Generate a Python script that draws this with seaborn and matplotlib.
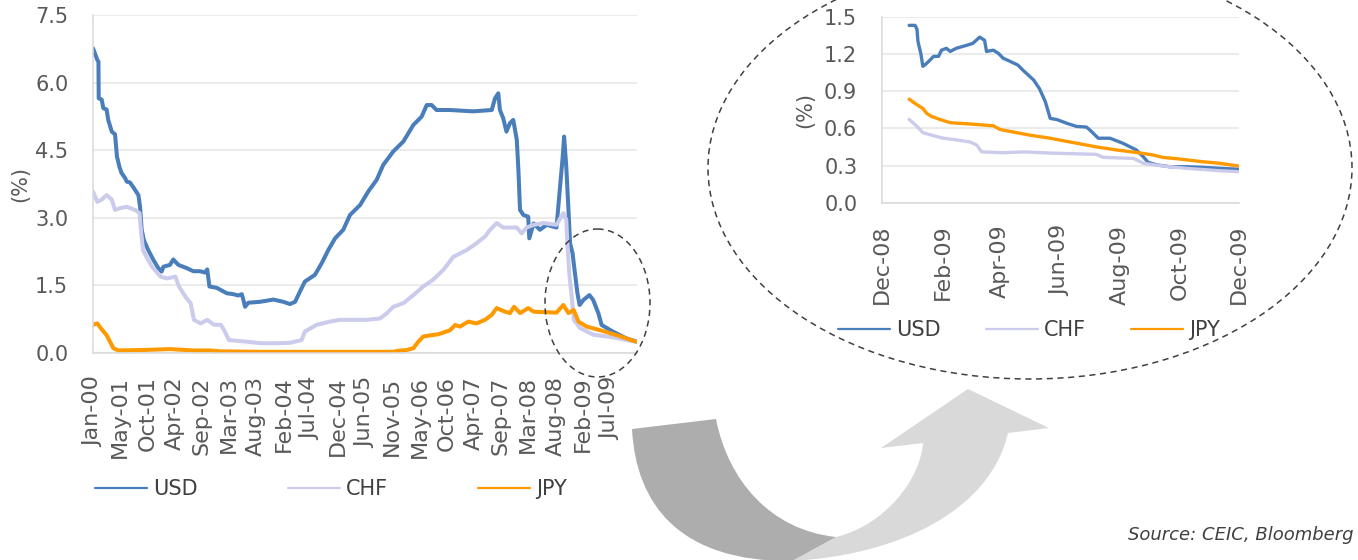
import numpy as np
import pandas as pd
import matplotlib
matplotlib.use("Agg")
import matplotlib.pyplot as plt
import matplotlib.dates as mdates
from matplotlib.ticker import FormatStrFormatter, FixedLocator
from matplotlib.patches import Ellipse, PathPatch
from matplotlib.path import Path
from matplotlib.lines import Line2D
from matplotlib.transforms import Affine2D
import seaborn as sns

# ---------------------------------------------------------------- data
CURRENCIES = ["USD", "CHF", "JPY"]
COLORS = {"USD": "#4A7EBB", "CHF": "#CBCBEC", "JPY": "#FF9900"}

# Long history: position along the observation axis (one unit = one label period)
PERIOD_LABELS = ["Jan-00", "May-01", "Oct-01", "Apr-02", "Sep-02", "Mar-03",
                 "Aug-03", "Feb-04", "Jul-04", "Dec-04", "Jun-05", "Nov-05",
                 "May-06", "Oct-06", "Apr-07", "Sep-07", "Mar-08", "Aug-08",
                 "Feb-09", "Jul-09"]

usd_t = [0, 0.07, 0.16, 0.2, 0.21, 0.32, 0.38, 0.5, 0.56, 0.69, 0.81, 0.88,
         0.97, 1.05, 1.18, 1.24, 1.36, 1.51, 1.67, 1.73, 1.79, 1.87, 2.03,
         2.22, 2.4, 2.52, 2.59, 2.83, 2.95, 3.14, 3.44, 3.69, 3.93, 4.12, 4.2,
         4.28, 4.55, 4.92, 5.16, 5.34, 5.47, 5.53, 5.59, 5.71, 6.14, 6.63, 7.0,
         7.24, 7.43, 7.61, 7.79, 8.16, 8.41, 8.65, 8.9, 9.2, 9.45, 9.82, 10.12,
         10.43, 10.67, 11.04, 11.41, 11.78, 12.08, 12.27, 12.45, 12.63, 13.12,
         13.98, 14.66, 14.78, 14.9, 14.96, 15.08, 15.2, 15.33, 15.45, 15.58,
         15.64, 15.7, 15.82, 16.0, 16.04, 16.2, 16.43, 16.68, 17.04, 17.14,
         17.27, 17.32, 17.4, 17.48, 17.54, 17.63, 17.72, 17.81, 17.89, 18.03,
         18.25, 18.39, 18.58, 18.7, 19.12, 19.6, 19.97]
usd_rate = [6.76, 6.65, 6.5, 6.47, 5.65, 5.62, 5.43, 5.4, 5.17, 4.91, 4.85, 4.36,
            4.13, 3.99, 3.88, 3.8, 3.78, 3.65, 3.5, 3.24, 2.73, 2.5, 2.28,
            2.06, 1.88, 1.8, 1.91, 1.95, 2.07, 1.95, 1.88, 1.81, 1.81, 1.78, 1.85,
            1.47, 1.44, 1.32, 1.30, 1.27, 1.30, 1.17, 1.02, 1.11, 1.13, 1.18, 1.13,
            1.08, 1.13, 1.36, 1.58, 1.73, 1.99, 2.28, 2.54, 2.73, 3.06, 3.28, 3.58,
            3.84, 4.17, 4.47, 4.69, 5.06, 5.24, 5.5, 5.5, 5.39, 5.39,
            5.36, 5.39, 5.65, 5.76, 5.39, 5.21, 4.91, 5.1, 5.17, 4.73,
            4.06, 3.17, 3.06, 3.02, 2.54, 2.87, 2.73, 2.84, 2.78, 3.47,
            4.36, 4.8, 4.13, 3.17, 2.43, 2.21, 1.76, 1.32, 1.06, 1.17,
            1.28, 1.17, 0.875, 0.615, 0.467, 0.32, 0.25]

chf_t = [0, 0.16, 0.32, 0.5, 0.69, 0.81, 0.99, 1.24, 1.55, 1.71, 1.76, 1.84,
         1.99, 2.17, 2.48, 2.72, 3.03, 3.16, 3.4, 3.59, 3.71, 3.96, 4.2, 4.45,
         4.7, 4.82, 5.0, 5.57, 6.18, 6.75, 7.24, 7.67, 7.79, 8.22, 8.71, 9.08,
         10.06, 10.55, 10.8, 11.04, 11.41, 11.78, 12.14, 12.5, 12.88, 13.25,
         13.74, 14.1, 14.41, 14.6, 14.84, 15.08, 15.58, 15.76, 15.94, 16.2,
         16.56, 17.04, 17.29, 17.4, 17.44, 17.52, 17.6, 17.68, 17.9, 18.39,
         19.12, 19.97]
chf_rate = [3.58, 3.35, 3.4, 3.5, 3.4, 3.17, 3.21, 3.24, 3.17, 3.1, 2.73, 2.28,
            2.1, 1.91, 1.69, 1.65, 1.69, 1.47, 1.24, 1.1, 0.73, 0.65, 0.73, 0.62,
            0.62, 0.5, 0.28, 0.25, 0.21, 0.21, 0.22, 0.28, 0.47, 0.62, 0.69, 0.73,
            0.73, 0.76, 0.875, 1.02, 1.1, 1.28, 1.47, 1.62, 1.84, 2.13,
            2.28, 2.43, 2.58, 2.73, 2.88, 2.78, 2.78, 2.65, 2.78, 2.84,
            2.88, 2.84, 3.1, 2.95, 2.43, 1.69, 1.24, 0.73, 0.55, 0.40,
            0.34, 0.24]

jpy_t = [0, 0.16, 0.29, 0.5, 0.62, 0.75, 0.93, 1.85, 2.83, 3.69, 4.3, 4.67,
         6.14, 11.1, 11.16, 11.53, 11.78, 11.96, 12.14, 12.45, 12.7, 13.13,
         13.31, 13.49, 13.8, 14.1, 14.41, 14.66, 14.84, 15.15, 15.33, 15.48,
         15.7, 16.0, 16.2, 17.04, 17.29, 17.48, 17.67, 17.85, 18.15, 18.64,
         19.25, 19.97]
jpy_rate = [0.62, 0.65, 0.54, 0.39, 0.25, 0.1, 0.05, 0.06, 0.08, 0.05, 0.05, 0.03,
            0.02, 0.02, 0.04, 0.06, 0.10, 0.245, 0.36, 0.39, 0.41, 0.50,
            0.615, 0.58, 0.69, 0.65, 0.73, 0.84, 0.99, 0.91, 0.88, 1.02,
            0.88, 0.99, 0.91, 0.89, 1.06, 0.88, 0.95, 0.69, 0.58, 0.50,
            0.39, 0.245]

# 2009 close-up (daily dates)
usd09_date = ["2008-12-29", "2009-01-04", "2009-01-06", "2009-01-07", "2009-01-10",
              "2009-01-12", "2009-01-14", "2009-01-18", "2009-01-23", "2009-01-28",
              "2009-01-31", "2009-02-05", "2009-02-09", "2009-02-15", "2009-02-26",
              "2009-03-04", "2009-03-11", "2009-03-16", "2009-03-18", "2009-03-25",
              "2009-03-30", "2009-04-04", "2009-04-11", "2009-04-19", "2009-04-24",
              "2009-05-05", "2009-05-11", "2009-05-17", "2009-05-22", "2009-05-29",
              "2009-06-08", "2009-06-18", "2009-06-28", "2009-07-03", "2009-07-10",
              "2009-07-22", "2009-08-04", "2009-08-18", "2009-08-25", "2009-08-30",
              "2009-09-08", "2009-09-21", "2009-10-08", "2009-10-25", "2009-11-11",
              "2009-11-30"]
usd09_rate = [1.43, 1.43, 1.40, 1.30, 1.20, 1.10, 1.11, 1.14, 1.18, 1.18,
              1.23, 1.245, 1.22, 1.245, 1.27, 1.285, 1.335, 1.31, 1.22, 1.23,
              1.205, 1.165, 1.14, 1.11, 1.07, 0.99, 0.92, 0.815, 0.68, 0.67,
              0.64, 0.615, 0.61, 0.575, 0.52, 0.52, 0.48, 0.425, 0.37, 0.325,
              0.305, 0.29, 0.29, 0.285, 0.277, 0.27]

chf09_date = ["2008-12-29", "2009-01-06", "2009-01-12", "2009-01-23", "2009-02-02",
              "2009-02-12", "2009-03-01", "2009-03-08", "2009-03-13", "2009-04-04",
              "2009-04-25", "2009-05-22", "2009-07-08", "2009-07-15", "2009-08-15",
              "2009-08-25", "2009-09-14", "2009-10-08", "2009-11-11", "2009-11-30"]
chf09_rate = [0.672, 0.615, 0.565, 0.54, 0.52, 0.51, 0.49, 0.465, 0.41, 0.403,
              0.41, 0.40, 0.39, 0.366, 0.357, 0.318, 0.296, 0.277, 0.258, 0.25]

jpy09_date = ["2008-12-29", "2009-01-06", "2009-01-12", "2009-01-16", "2009-01-21",
              "2009-01-30", "2009-02-09", "2009-03-01", "2009-03-25", "2009-04-01",
              "2009-04-11", "2009-05-01", "2009-05-22", "2009-06-04", "2009-06-18",
              "2009-07-08", "2009-07-29", "2009-08-18", "2009-09-04", "2009-09-14",
              "2009-09-28", "2009-10-25", "2009-11-11", "2009-11-30"]
jpy09_rate = [0.835, 0.79, 0.76, 0.72, 0.695, 0.67, 0.645, 0.635, 0.62, 0.59,
              0.575, 0.545, 0.52, 0.50, 0.48, 0.45, 0.425, 0.405, 0.385, 0.365,
              0.355, 0.33, 0.318, 0.296]

SOURCE = "Source: CEIC, Bloomberg"

# ---------------------------------------------------------------- frames
hist = pd.concat([
    pd.DataFrame({"t": usd_t, "rate": usd_rate, "currency": "USD"}),
    pd.DataFrame({"t": chf_t, "rate": chf_rate, "currency": "CHF"}),
    pd.DataFrame({"t": jpy_t, "rate": jpy_rate, "currency": "JPY"}),
], ignore_index=True)

recent = pd.concat([
    pd.DataFrame({"date": pd.to_datetime(usd09_date), "rate": usd09_rate, "currency": "USD"}),
    pd.DataFrame({"date": pd.to_datetime(chf09_date), "rate": chf09_rate, "currency": "CHF"}),
    pd.DataFrame({"date": pd.to_datetime(jpy09_date), "rate": jpy09_rate, "currency": "JPY"}),
], ignore_index=True)

# ---------------------------------------------------------------- style
sns.set_theme(style="white")
plt.rcParams["font.family"] = ["DejaVu Sans"]
TICK_COLOR = "#595959"
GRID = "#EBEBEB"
FS = 15
FS_X = 16

W, H = 1358, 560
fig = plt.figure(figsize=(W / 100, H / 100), dpi=100)
fig.patch.set_facecolor("white")
# pixel coordinates measured from the top-left corner of the canvas
PX = Affine2D().scale(1 / W, -1 / H).translate(0, 1) + fig.transFigure


def style_axes(ax):
    for side in ("top", "right"):
        ax.spines[side].set_visible(False)
    for side in ("left", "bottom"):
        ax.spines[side].set_color("#D9D9D9")
        ax.spines[side].set_linewidth(1.1)
    ax.yaxis.grid(True, color=GRID, linewidth=1.5)
    ax.xaxis.grid(False)
    ax.set_facecolor("white")
    ax.tick_params(labelcolor=TICK_COLOR, color=GRID, width=1.5)
    ax.tick_params(axis="y", labelsize=FS)
    ax.tick_params(axis="x", labelsize=FS_X)


# ---------------------------------------------------------------- long history
ax1 = fig.add_axes([93 / W, 1 - 352.7 / H, 544 / W, 337.7 / H])
sns.lineplot(data=hist, x="t", y="rate", hue="currency", hue_order=CURRENCIES,
             palette=COLORS, linewidth=2.9, estimator=None, sort=False,
             legend=False, ax=ax1)
style_axes(ax1)
ax1.set_xlim(0, 20.0)
ax1.set_ylim(0, 7.5)
ax1.set_yticks(np.arange(0, 7.51, 1.5))
ax1.yaxis.set_major_formatter(FormatStrFormatter("%.1f"))
ax1.set_xticks(np.arange(len(PERIOD_LABELS)))
ax1.set_xticklabels(PERIOD_LABELS, rotation=90)
ax1.xaxis.set_minor_locator(FixedLocator(np.arange(0, 20.01, 100 / 116)))
ax1.tick_params(axis="x", which="major", length=0, pad=17)
ax1.tick_params(axis="x", which="minor", length=4.3, color=GRID, width=1.5)
ax1.tick_params(axis="y", length=5.8, pad=12)
ax1.set_xlabel("")
ax1.set_ylabel("(%)", fontsize=FS, color=TICK_COLOR)
ax1.yaxis.set_label_coords(-0.115, 0.5)

# ---------------------------------------------------------------- 2009 close-up
ax2 = fig.add_axes([881.7 / W, 1 - 202.7 / H, 357.6 / W, 186 / H])
sns.lineplot(data=recent, x="date", y="rate", hue="currency", hue_order=CURRENCIES,
             palette=COLORS, linewidth=2.4, estimator=None, sort=False,
             legend=False, ax=ax2)
style_axes(ax2)
ax2.set_xlim(pd.Timestamp("2008-12-01"), pd.Timestamp("2009-12-01"))
ax2.set_ylim(0, 1.5)
ax2.set_yticks(np.arange(0, 1.51, 0.3))
ax2.yaxis.set_major_formatter(FormatStrFormatter("%.1f"))
ax2.xaxis.set_major_locator(mdates.MonthLocator(bymonth=[2, 4, 6, 8, 10, 12]))
ax2.xaxis.set_major_formatter(mdates.DateFormatter("%b-%y"))
plt.setp(ax2.get_xticklabels(), rotation=90)
ax2.tick_params(axis="x", length=4.3, pad=11.5)
ax2.tick_params(axis="y", length=3.6, pad=14)
ax2.set_xlabel("")
ax2.set_ylabel("(%)", fontsize=FS, color=TICK_COLOR)
ax2.yaxis.set_label_coords(-0.185, 0.5)

# ---------------------------------------------------------------- legends
handles = [Line2D([], [], color=COLORS[c], linewidth=1.6) for c in CURRENCIES]
leg_kw = dict(ncol=3, frameon=False, fontsize=FS, handlelength=2.5,
              handletextpad=0.3, borderpad=0, borderaxespad=0,
              loc="center left", labelcolor="#404040")
fig.legend(handles, CURRENCIES, bbox_to_anchor=(95 / W, 1 - 489 / H),
           columnspacing=4.3, **leg_kw)
fig.legend(handles, CURRENCIES, bbox_to_anchor=(838 / W, 1 - 330 / H),
           columnspacing=2.15, **leg_kw)

# ---------------------------------------------------------------- zoom markers
dash = dict(fill=False, edgecolor="#404040", linewidth=1.1,
            linestyle=(0, (4, 3)), transform=PX)
fig.add_artist(Ellipse((597.5, 303), 105, 148, **dash))
fig.add_artist(Ellipse((1030, 168), 644, 422, **dash))

# curved arrow from the highlighted region to the close-up
dark = Path([(632, 429), (716, 419), (728, 480), (770, 530), (836, 537),
             (792, 561), (680, 562), (636, 505), (632, 429), (632, 429)],
            [Path.MOVETO, Path.LINETO, Path.CURVE4, Path.CURVE4, Path.CURVE4,
             Path.LINETO, Path.CURVE4, Path.CURVE4, Path.CURVE4, Path.CLOSEPOLY])
light = Path([(792, 561), (900, 555), (990, 510), (1008, 433), (1049, 428),
              (968, 389), (881, 448), (923, 443), (920, 480), (885, 525),
              (836, 537), (792, 561)],
             [Path.MOVETO, Path.CURVE4, Path.CURVE4, Path.CURVE4, Path.LINETO,
              Path.LINETO, Path.LINETO, Path.LINETO, Path.CURVE4, Path.CURVE4,
              Path.CURVE4, Path.CLOSEPOLY])
fig.add_artist(PathPatch(light, facecolor="#D9D9D9", edgecolor="none", transform=PX))
fig.add_artist(PathPatch(dark, facecolor="#ADADAD", edgecolor="none", transform=PX))

fig.text(1354 / W, 1 - 535 / H, SOURCE, fontsize=13, style="italic",
         color="#404040", ha="right", va="center")

fig.savefig("out.png", dpi=100)
